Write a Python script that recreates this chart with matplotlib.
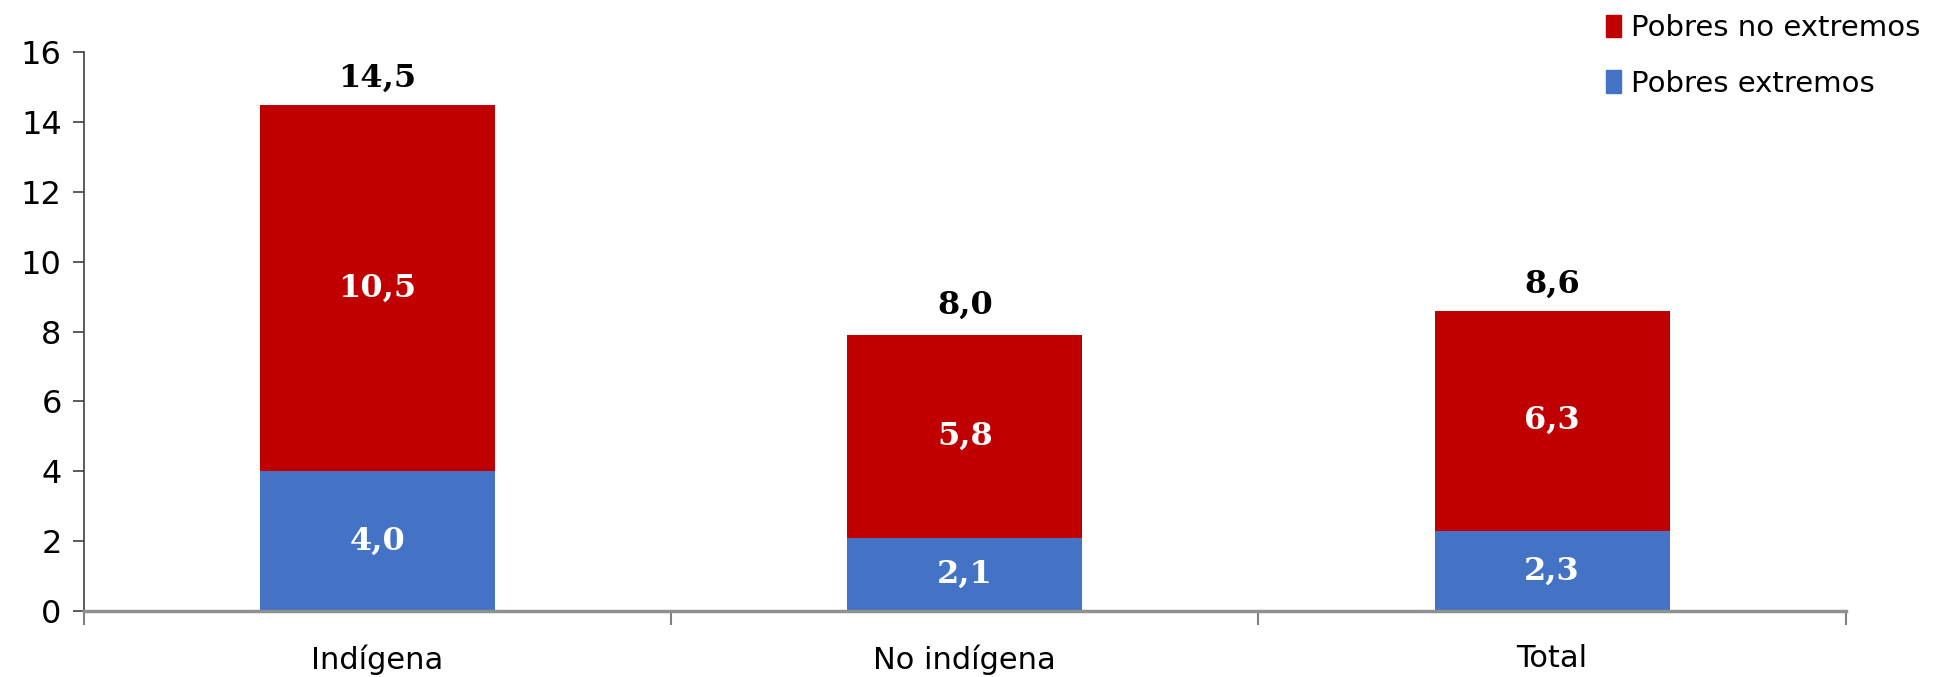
import numpy as np
import matplotlib.pyplot as plt
from matplotlib.patches import Patch

# Datos
categorias = ['Indígena', 'No indígena', 'Total']
pobres_extremos = [4.0, 2.1, 2.3]
pobres_no_extremos = [10.5, 5.8, 6.3]
totales = [14.5, 8.0, 8.6]

color_ext = '#4472C4'
color_noext = '#C00000'

fig = plt.figure(figsize=(19.47, 6.77), dpi=100)
ax = fig.add_axes([0.0431, 0.0975, 0.9049, 0.8255])

x = np.arange(len(categorias))
ancho = 0.40

ax.bar(x, pobres_extremos, ancho, color=color_ext, zorder=2)
ax.bar(x, pobres_no_extremos, ancho, bottom=pobres_extremos,
       color=color_noext, zorder=2)

# Etiquetas dentro y encima de las barras
fmt = lambda v: f'{v:.1f}'.replace('.', ',')
for i in range(len(categorias)):
    ax.text(x[i], pobres_extremos[i] / 2, fmt(pobres_extremos[i]),
            ha='center', va='center', color='white', fontsize=23,
            fontweight='bold', family='DejaVu Serif')
    ax.text(x[i], pobres_extremos[i] + pobres_no_extremos[i] / 2,
            fmt(pobres_no_extremos[i]),
            ha='center', va='center', color='white', fontsize=23,
            fontweight='bold', family='DejaVu Serif')
    ax.text(x[i], totales[i] + 0.3, fmt(totales[i]),
            ha='center', va='bottom', color='black', fontsize=23,
            fontweight='bold', family='DejaVu Serif')

ax.set_xlim(-0.5, len(categorias) - 0.5)
ax.set_ylim(0, 16)
ax.set_yticks(range(0, 17, 2))
ax.tick_params(axis='y', labelsize=23, length=8, width=1.2, color='#404040',
               pad=8, direction='out')

# Ticks del eje x en los limites de categoria
ax.set_xticks(np.arange(-0.5, len(categorias), 1.0))
ax.set_xticklabels([])
ax.set_xticks(x, minor=True)
ax.set_xticklabels(categorias, minor=True, fontsize=22)
ax.tick_params(axis='x', which='major', length=10, width=1.5, color='#808080',
               direction='out')
ax.tick_params(axis='x', which='minor', length=0, pad=24)

for s in ['top', 'right']:
    ax.spines[s].set_visible(False)
ax.spines['left'].set_color('#404040')
ax.spines['left'].set_linewidth(1.2)
ax.spines['bottom'].set_color('#909090')
ax.spines['bottom'].set_linewidth(2.5)
ax.spines['bottom'].set_zorder(3)

# Leyenda
handles = [Patch(color=color_noext, label='Pobres no extremos'),
           Patch(color=color_ext, label='Pobres extremos')]
fig.legend(handles=handles, loc='upper left', bbox_to_anchor=(0.8115, 1.018),
           frameon=False, fontsize=21, handlelength=0.5, handleheight=0.8,
           handletextpad=0.35, labelspacing=0.95)

fig.savefig('out.png', dpi=100)
